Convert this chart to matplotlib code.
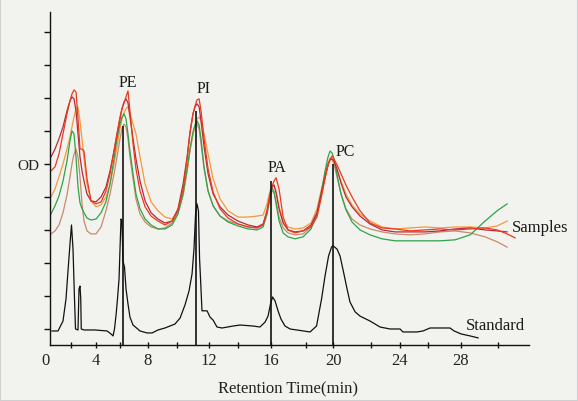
import numpy as np
import matplotlib
matplotlib.use("Agg")
import matplotlib.pyplot as plt
from matplotlib.patches import Rectangle

plt.rcParams['font.family'] = ['Liberation Serif', 'DejaVu Serif']

# ---- axis calibration of the (scanned) time axis: minute -> relative position
axis_minutes = [-10, 0, 2, 4, 6, 8, 10, 12, 14, 16, 18, 20, 22, 24, 26, 28, 30, 32, 42]
axis_position = [-79, 46, 71, 96, 120, 148, 177, 209, 238, 271, 306, 333, 371, 400, 428, 461, 498, 531, 696]

# ---- standard chromatogram
std_time = [0.48, 0.96, 1.36, 1.6, 1.76, 1.92, 2.04, 2.16, 2.28, 2.36, 2.56, 2.64, 2.72, 2.78, 2.82,
            3.04, 3.92, 4.92, 5.25, 5.42, 5.54, 5.67, 5.79, 5.92, 6.0, 6.07, 6.14, 6.21, 6.32, 6.43,
            6.57, 6.71, 6.93, 7.43, 7.93, 8.28, 8.69, 9.17, 9.86, 10.19, 10.5, 10.75, 10.94, 11.06,
            11.16, 11.25, 11.34, 11.41, 11.47, 11.56, 11.88, 12.07, 12.28, 12.55, 12.9, 13.66, 14.12,
            14.91, 15.33, 15.64, 15.82, 15.97, 16.09, 16.23, 16.4, 16.57, 16.8, 17.09, 18.3, 18.78,
            19.15, 19.41, 19.67, 19.89, 20.0, 20.21, 20.37, 20.55, 20.74, 20.89, 21.16, 21.42, 21.95,
            22.62, 23.31, 24.0, 24.21, 25.21, 25.64, 26.12, 27.33, 27.58, 28.0, 28.49, 28.92]
std_od = [0.94, 0.94, 1.24, 1.91, 2.76, 3.58, 4.15, 3.42, 1.91, 1.0, 0.97, 2.21, 2.30, 1.91, 1.0,
          0.97, 0.97, 0.94, 0.85, 0.79, 1.0, 1.42, 1.91, 2.52, 3.42, 4.33, 4.27, 3.06, 2.88, 2.21,
          1.76, 1.36, 1.12, 0.94, 0.88, 0.88, 0.97, 1.03, 1.15, 1.33, 1.73, 2.15, 2.67, 3.42,
          4.48, 4.79, 4.58, 3.12, 2.52, 1.55, 1.55, 1.36, 1.27, 1.06, 1.03, 1.09, 1.12,
          1.09, 1.06, 1.21, 1.39, 1.76, 1.97, 1.85, 1.55, 1.3, 1.09, 1.0, 0.91, 1.09,
          1.91, 2.61, 3.21, 3.48, 3.52, 3.42, 3.21, 2.73, 2.21, 1.82, 1.52, 1.39, 1.24,
          1.06, 1.0, 1.0, 0.91, 0.91, 0.94, 1.03, 1.03, 0.94, 0.85, 0.79, 0.73]

# ---- sample chromatograms (common time grid)
sample_time = [0.40, 0.72, 1.04, 1.36, 1.68, 1.92, 2.08, 2.24, 2.40, 2.56, 2.72, 2.88, 3.04, 3.28, 3.60,
               4.00, 4.42, 4.83, 5.17, 5.50, 5.75, 6.00, 6.14, 6.29, 6.43, 6.57, 6.71, 6.93, 7.14, 7.43,
               7.79, 8.21, 8.69, 9.17, 9.66, 10.06, 10.38, 10.63, 10.81, 11.0, 11.13, 11.25, 11.38, 11.5,
               11.69, 11.94, 12.28, 12.76, 13.31, 14.0, 14.61, 15.15, 15.52, 15.76, 15.94, 16.06, 16.17,
               16.29, 16.46, 16.69, 16.97, 17.37, 17.83, 18.37, 18.81, 19.11, 19.41, 19.63, 19.78, 19.93,
               20.05, 20.21, 20.42, 20.68, 21.0, 21.42, 21.95, 22.76, 23.66, 24.71, 25.79, 26.73, 27.64,
               28.49, 29.30, 29.95, 30.55, 31.03]
nan = np.nan
sample_red = [5.79, 5.91, 6.30, 6.91, 7.52, 7.91, 8.12, 8.24, 8.18, 7.36, 6.45, 6.45, 6.39, 5.55, 4.88,
              4.79, 4.85, 5.18, 5.70, 6.39, 6.91, 7.42, 7.67, 7.85, 8.03, 8.21, 7.61, 6.61, 5.85, 5.18,
              4.70, 4.42, 4.27, 4.15, 4.27, 4.58, 5.24, 6.15, 6.91, 7.52, 7.76, 7.94, 7.97, 7.61,
              6.76, 5.85, 5.15, 4.64, 4.36, 4.18, 4.09, 4.06, 4.15, 4.58, 5.09, 5.33, 5.48,
              5.58, 5.24, 4.39, 4.0, 3.91, 3.97, 4.09, 4.39, 4.94, 5.55, 5.97, 6.15, 6.24,
              6.15, 5.97, 5.70, 5.36, 5.0, 4.58, 4.21, 4.06, 4.03, 3.97, 4.0, 4.03, 4.0,
              4.03, 4.06, 4.0, 3.88, 3.76]
sample_maroon = [6.21, 6.45, 6.76, 7.12, 7.61, 7.91, 8.03, 7.97, 7.61, 6.91, 6.21, 5.79, 5.48, 5.09, 4.88,
                 4.85, 5.0, 5.30, 5.79, 6.39, 6.91, 7.36, 7.67, 7.88, 7.97, 7.85, 7.42, 6.76, 6.15, 5.48,
                 4.88, 4.52, 4.33, 4.21, 4.27, 4.64, 5.39, 6.21, 6.97, 7.52, 7.73, 7.82, 7.73, 7.30,
                 6.52, 5.70, 5.09, 4.70, 4.45, 4.27, 4.15, 4.09, 4.18, 4.58, 5.06, 5.30, 5.36,
                 5.12, 4.64, 4.21, 4.0, 3.94, 3.97, 4.15, 4.52, 5.06, 5.61, 5.97, 6.12, 6.15,
                 6.09, 5.85, 5.42, 5.0, 4.70, 4.42, 4.18, 4.0, 3.94, 3.94, 3.94, 3.97, 4.03,
                 4.06, 4.0, 3.97, 3.94, nan]
sample_orange = [5.0, 5.24, 5.61, 6.0, 6.45, 6.82, 7.12, 7.42, 7.67, 7.73, 7.30, 6.76, 6.15, 5.39, 4.88,
                 4.70, 4.76, 5.0, 5.39, 6.0, 6.52, 7.06, 7.36, 7.55, 7.67, 7.73, 7.52, 7.21, 6.91, 6.21,
                 5.39, 4.85, 4.58, 4.39, 4.33, 4.58, 5.09, 5.79, 6.45, 6.91, 7.18, 7.36, 7.42, 7.30,
                 6.91, 6.30, 5.55, 4.94, 4.58, 4.39, 4.39, 4.42, 4.45, 4.79, 5.18, 5.33, 5.36,
                 5.18, 4.70, 4.27, 4.09, 4.03, 4.06, 4.21, 4.64, 5.18, 5.67, 6.03, 6.15, 6.12,
                 6.0, 5.79, 5.48, 5.09, 4.76, 4.48, 4.27, 4.09, 4.03, 4.06, 4.09, 4.06, 4.09,
                 4.09, 4.06, 4.12, 4.27, nan]
sample_green = [4.48, 4.73, 5.03, 5.48, 6.09, 6.70, 7.0, 6.91, 6.21, 5.30, 4.82, 4.64, 4.52, 4.36, 4.30,
                4.33, 4.52, 4.85, 5.39, 6.15, 6.76, 7.21, 7.42, 7.52, 7.36, 6.91, 6.39, 5.70, 5.09, 4.64,
                4.33, 4.15, 4.03, 4.03, 4.15, 4.48, 5.09, 5.85, 6.45, 6.97, 7.18, 7.30, 7.18, 6.76,
                5.91, 5.18, 4.73, 4.42, 4.24, 4.12, 4.03, 4.0, 4.09, 4.48, 5.0, 5.27, 5.15,
                4.79, 4.27, 3.91, 3.79, 3.73, 3.79, 4.03, 4.48, 5.09, 5.79, 6.21, 6.39, 6.33,
                6.15, 5.67, 5.09, 4.61, 4.24, 4.0, 3.85, 3.73, 3.67, 3.67, 3.67, 3.67, 3.70,
                3.85, 4.27, 4.58, 4.79, nan]
sample_tan = [3.88, 3.97, 4.15, 4.52, 5.06, 5.61, 6.0, 6.30, 6.45, 6.21, 5.61, 4.79, 4.27, 3.97, 3.88,
              3.88, 4.09, 4.58, 5.09, 5.70, 6.21, 6.76, 7.06, 7.21, 7.12, 6.76, 6.21, 5.55, 4.94, 4.48,
              4.24, 4.09, 4.03, 4.06, 4.21, 4.52, 5.06, 5.79, 6.39, 6.91, 7.15, 7.21, 7.06, 6.61,
              5.85, 5.18, 4.73, 4.42, 4.27, 4.18, 4.09, 4.06, 4.15, 4.52, 4.94, 5.18, 5.15,
              4.85, 4.39, 4.06, 3.91, 3.85, 3.88, 4.09, 4.52, 5.06, 5.61, 5.97, 6.15, 6.15,
              6.0, 5.61, 5.09, 4.64, 4.33, 4.15, 4.03, 3.94, 3.88, 3.85, 3.88, 3.94, 3.97,
              3.91, 3.79, 3.64, 3.48, nan]

# ---- lipid class markers
lipid_names = ['PE', 'PI', 'PA', 'PC']
lipid_time = [6.18, 11.16, 16.0, 19.98]
lipid_marker_top = [7.15, 7.61, 5.48, 6.0]
lipid_label_time = [6.57, 11.69, 16.34, 20.63]
lipid_label_od = [8.48, 8.30, 5.91, 6.39]

x_major = [0, 4, 8, 12, 16, 20, 24, 28]
x_minor = list(range(2, 31, 2))
y_ticks = [1, 2, 3, 4, 5, 6, 7, 8, 9, 10]
y_ticklabels = ['', '', '', '', '', 'OD', '', '', '', '']

# ---------------------------------------------------------------
bg = '#f2f2ef'
fig = plt.figure(figsize=(5.78, 4.02), dpi=100, facecolor=bg)
fig.patches.append(Rectangle((0, 0), 1, 1, transform=fig.transFigure, fill=False,
                             edgecolor='#cfcfcf', linewidth=1.5))
ax = fig.add_axes([46 / 578, 56 / 402, (529.4 - 46) / 578, (346 - 13) / 402])
ax.set_facecolor('none')

fwd = lambda t: np.interp(t, axis_minutes, axis_position)
inv = lambda p: np.interp(p, axis_position, axis_minutes)
ax.set_xscale('function', functions=(fwd, inv))

x_left_spine = 0.32
y_bottom = 0.515
ax.set_xlim(0, 31.9)
ax.set_ylim(y_bottom, 10.6)

colors = {'tan': '#c98a6c', 'orange': '#f29a3c', 'green': '#2ea44a',
          'maroon': '#b42a3e', 'red': '#ea3a1e'}
ax.plot(sample_time, sample_tan, color=colors['tan'], lw=0.9)
ax.plot(sample_time, sample_orange, color=colors['orange'], lw=0.9)
ax.plot(sample_time, sample_green, color=colors['green'], lw=0.9)
ax.plot(sample_time, sample_maroon, color=colors['maroon'], lw=0.9)
ax.plot(sample_time, sample_red, color=colors['red'], lw=0.9)

ax.plot(std_time, std_od, color='#111111', lw=0.9)
ax.vlines(lipid_time, y_bottom, lipid_marker_top, color='#111111', lw=1.2)

for name, tx, ty in zip(lipid_names, lipid_label_time, lipid_label_od):
    ax.text(tx, ty, name, ha='center', va='center', fontsize=11.5, color='#1a1a1a')

ax.text(30.85, 4.09, 'Samples', ha='left', va='center', fontsize=12, color='#1a1a1a')
ax.text(28.27, 1.12, 'Standard', ha='left', va='center', fontsize=12, color='#1a1a1a')

for s in ['top', 'right']:
    ax.spines[s].set_visible(False)
ax.spines['left'].set_position(('data', x_left_spine))
ax.spines['bottom'].set_bounds(x_left_spine, 31.9)
for s in ['left', 'bottom']:
    ax.spines[s].set_linewidth(1.0)
    ax.spines[s].set_color('#111111')

ax.xaxis.remove_overlapping_locs = False
ax.set_xticks(x_major)
ax.set_xticklabels([str(v) for v in x_major])
ax.set_xticks(x_minor, minor=True)
ax.tick_params(axis='x', which='major', length=0, pad=5, labelsize=12, labelcolor='#222222')
ax.tick_params(axis='x', which='minor', length=5, direction='inout', width=1.0, color='#111111')
ax.set_yticks(y_ticks)
ax.set_yticklabels(y_ticklabels)
ax.tick_params(axis='y', which='major', length=4, direction='out', width=1.0, pad=4,
               labelsize=11, labelcolor='#222222', color='#111111')
ax.yaxis.set_minor_locator(matplotlib.ticker.NullLocator())

ax.set_xlabel('Retention Time(min)', fontsize=12, color='#222222', labelpad=9)

fig.savefig('out.png', dpi=100, facecolor=bg)
